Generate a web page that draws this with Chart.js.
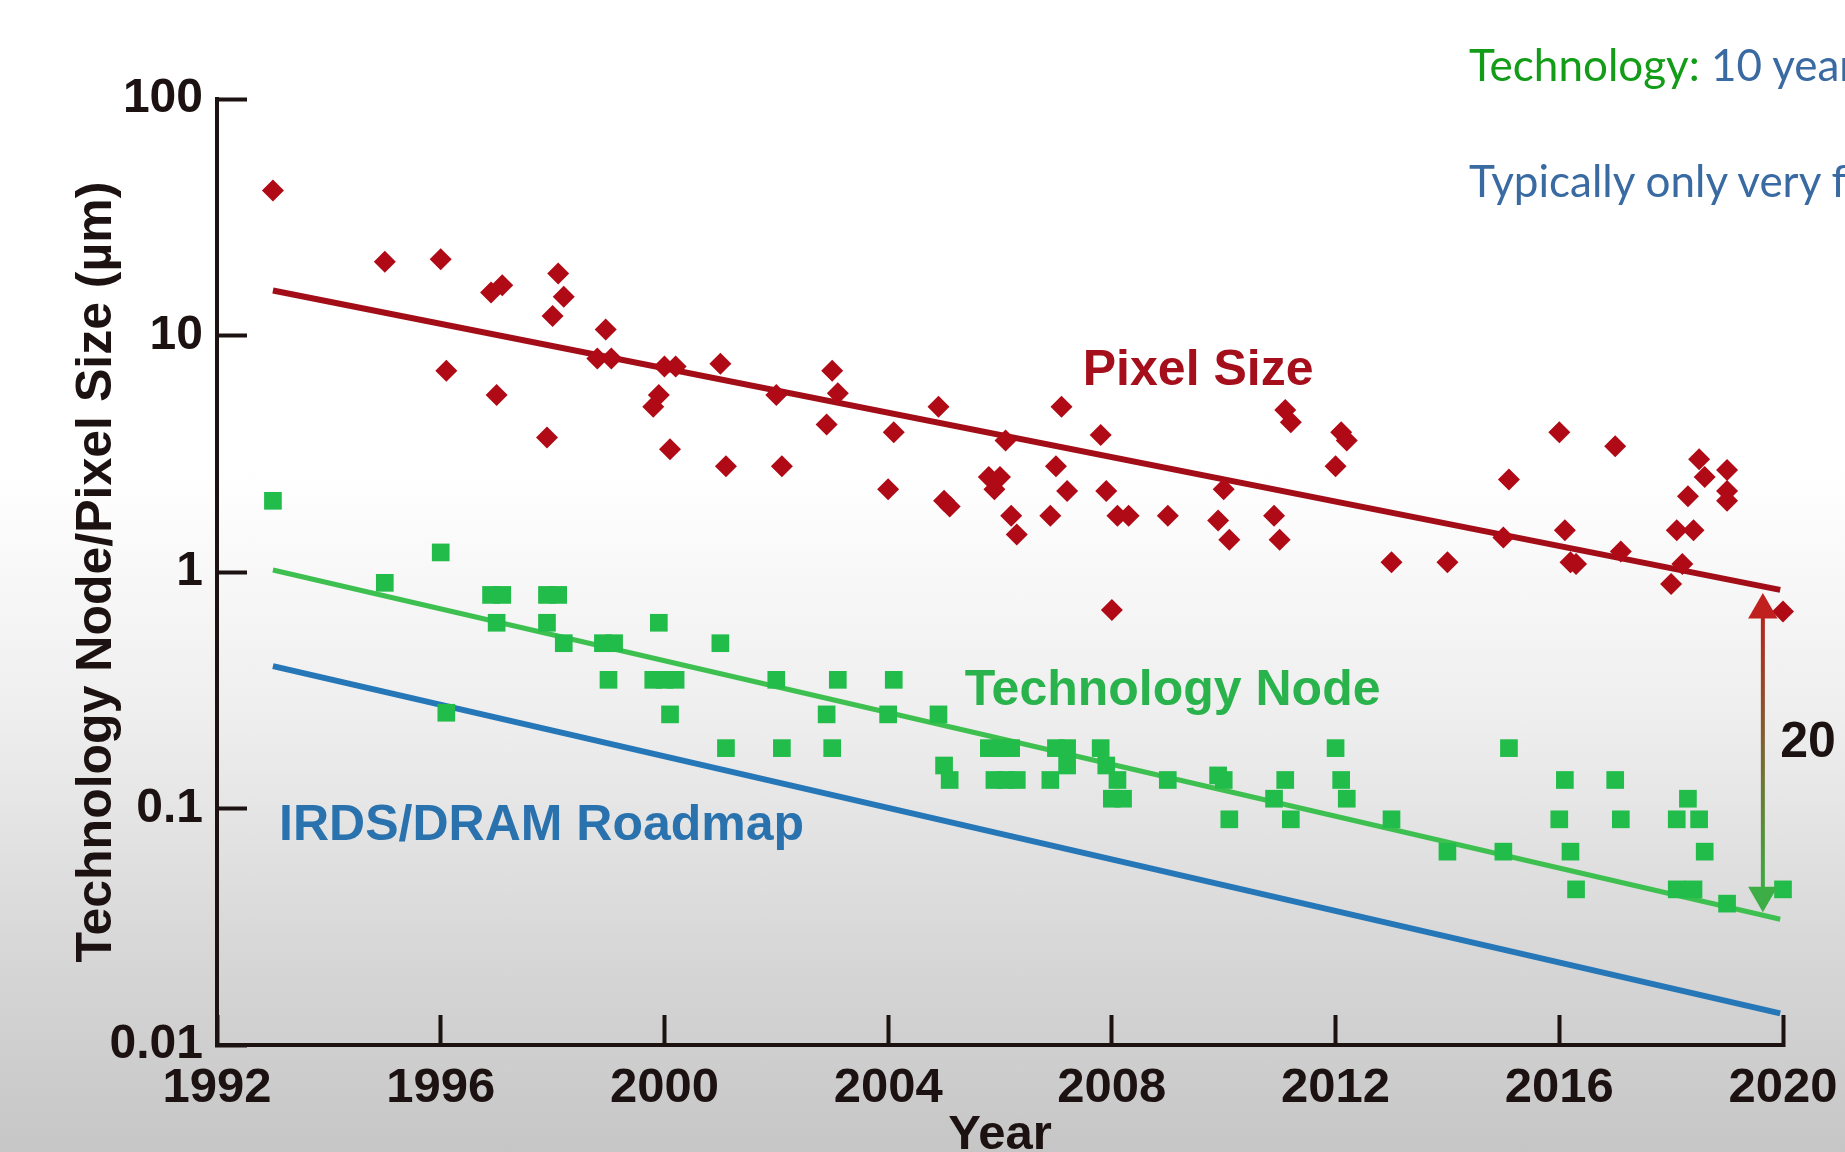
<!DOCTYPE html>
<html lang="en">
<head>
    <meta charset="UTF-8">
    <title>Technology Node / Pixel Size</title>
    <script src="https://cdn.jsdelivr.net/npm/chart.js"></script>
    <style>
        html, body { margin: 0; padding: 0; }
        body {
            width: 1845px; height: 1152px; overflow: hidden; position: relative;
            background: linear-gradient(to bottom, #ffffff 0px, #ffffff 470px, #eeeeee 720px, #d8d8d8 940px, #c6c6c6 1152px);
        }
        #grafico { position: absolute; left: 0; top: 0; }
        .slide-text {
            position: absolute; left: 1469px; white-space: nowrap;
            font-family: Lato, "Open Sans", sans-serif; font-size: 44px; line-height: 1;
        }
        .verde { color: #129c17; }
        .azul { color: #396aa2; }
    </style>
</head>
<body>

    <canvas id="grafico" width="1845" height="1152"></canvas>
    <div class="slide-text" style="top:42px"><span class="verde">Technology:</span> <span class="azul">10 years</span></div>
    <div class="slide-text azul" style="top:158px">Typically only very few</div>

    <script>
        // eixos
        const xTicks = [1992, 1996, 2000, 2004, 2008, 2012, 2016, 2020];
        const yTicks = [0.01, 0.1, 1, 10, 100];
        const yTickLabels = ['0.01', '0.1', '1', '10', '100'];

        // pixel size (diamonds)
        const pixelYears = [1993, 1995, 1996, 1996.1, 1996.9, 1997.1, 1997, 1997.9, 1998.1, 1998.2, 1998, 1998.95, 1998.8, 1999.05,
            1999.8, 1999.9, 2000, 2000.2, 2000.1, 2001, 2001.1, 2002, 2002.1, 2003, 2003.1, 2002.9, 2004.1, 2004,
            2004.9, 2005, 2005.1, 2005.8, 2006, 2005.9, 2006.1, 2006.2, 2006.3, 2007.1, 2007, 2007.2, 2006.9,
            2007.8, 2007.9, 2008.1, 2008.3, 2008, 2009, 2010, 2009.9, 2010.1, 2011.1, 2011.2, 2010.9, 2011,
            2012.1, 2012.2, 2012, 2013, 2014, 2015.1, 2015, 2016, 2016.1, 2016.2, 2016.3, 2017, 2017.1,
            2018, 2018.1, 2018.2, 2018.3, 2018.4, 2018.5, 2018.6, 2019, 2019, 2019, 2020];
        const pixelSizes = [41, 20.5, 21, 7.1, 15.2, 16.3, 5.6, 3.7, 18.3, 14.6, 12.1, 10.6, 8.0, 8.0,
            5.0, 5.6, 7.4, 7.4, 3.3, 7.6, 2.8, 5.6, 2.8, 7.1, 5.7, 4.2, 3.9, 2.24,
            5.0, 2.0, 1.89, 2.52, 2.52, 2.24, 3.6, 1.73, 1.44, 5.0, 2.8, 2.2, 1.73,
            3.8, 2.2, 1.73, 1.73, 0.69, 1.73, 2.24, 1.65, 1.37, 4.84, 4.3, 1.73, 1.37,
            3.9, 3.6, 2.8, 1.1, 1.1, 2.46, 1.4, 3.9, 1.5, 1.1, 1.08, 3.4, 1.22,
            0.89, 1.5, 1.08, 2.09, 1.5, 3.0, 2.52, 2.7, 2.2, 2.0, 0.68];

        // technology node (squares)
        const nodeYears = [1993, 1995, 1996, 1996.1, 1996.9, 1997.1, 1997, 1997.9, 1998.1, 1997.9, 1998.2, 1998.9, 1999.1, 1999,
            1999.9, 1999.8, 2000, 2000.2, 2000.1, 2001, 2001.1, 2002, 2002.1, 2003.1, 2002.9, 2003, 2004.1, 2004,
            2004.9, 2005, 2005.1, 2005.8, 2006, 2006.2, 2005.9, 2006.1, 2006.3, 2006.9, 2007, 2007.2, 2007.2,
            2007.8, 2007.9, 2008, 2008.2, 2008.1, 2009, 2009.9, 2010, 2010.1, 2010.9, 2011.1, 2011.2,
            2012, 2012.1, 2012.2, 2013, 2014, 2015, 2015.1, 2016.1, 2016, 2016.2, 2016.3, 2017, 2017.1,
            2018.1, 2018.3, 2018.5, 2018.6, 2018.1, 2018.4, 2019, 2020];
        const nodeSizes = [2.0, 0.9, 1.21, 0.254, 0.8, 0.8, 0.61, 0.8, 0.8, 0.61, 0.5, 0.5, 0.5, 0.35,
            0.61, 0.35, 0.35, 0.35, 0.25, 0.5, 0.18, 0.35, 0.18, 0.35, 0.25, 0.18, 0.35, 0.25,
            0.25, 0.152, 0.132, 0.18, 0.18, 0.18, 0.132, 0.132, 0.132, 0.132, 0.18, 0.18, 0.152,
            0.18, 0.152, 0.11, 0.11, 0.132, 0.132, 0.138, 0.132, 0.09, 0.11, 0.132, 0.09,
            0.18, 0.132, 0.11, 0.09, 0.0657, 0.0657, 0.18, 0.132, 0.09, 0.0657, 0.0455, 0.132, 0.09,
            0.09, 0.11, 0.09, 0.0657, 0.0455, 0.0455, 0.0396, 0.0455];

        // retas de tendencia
        const fitYears = [1993, 2019.95];
        const pixelFit = [15.5, 0.84];
        const nodeFit = [1.02, 0.034];
        const roadmapFit = [0.40, 0.0136];

        // seta do gap (20x)
        const gapYears = [2019.64, 2019.64];
        const gapValues = [0.69, 0.043];

        const FONTE = '"Liberation Sans", Arial, Helvetica, sans-serif';
        const EIXO = '#1c1212';

        function pontos(xs, ys) {
            return xs.map((x, i) => ({ x: x, y: ys[i] }));
        }

        // textos dentro do grafico
        const rotulos = {
            id: 'rotulos',
            afterDatasetsDraw(chart) {
                const { ctx, scales: { x, y } } = chart;
                const itens = [
                    { texto: 'Pixel Size', ano: 2007.48, valor: 6.18, cor: '#a50f1c' },
                    { texto: 'Technology Node', ano: 2005.37, valor: 0.274, cor: '#2ab34c' },
                    { texto: 'IRDS/DRAM Roadmap', ano: 1993.11, valor: 0.0736, cor: '#2a72ae' },
                    { texto: '20', ano: 2019.95, valor: 0.165, cor: EIXO }
                ];
                ctx.save();
                ctx.font = 'bold 50px ' + FONTE;
                ctx.textAlign = 'left';
                ctx.textBaseline = 'alphabetic';
                itens.forEach(function (it) {
                    ctx.fillStyle = it.cor;
                    ctx.fillText(it.texto, x.getPixelForValue(it.ano), y.getPixelForValue(it.valor));
                });
                ctx.restore();
            }
        };

        new Chart(document.getElementById('grafico'), {
            type: 'scatter',
            data: {
                datasets: [
                    {
                        label: 'Gap',
                        type: 'line',
                        data: pontos(gapYears, gapValues),
                        borderWidth: 4,
                        borderColor: function (c) {
                            const chart = c.chart;
                            if (!chart.chartArea || !chart.scales.y) return '#8a6a3a';
                            const topo = chart.scales.y.getPixelForValue(gapValues[0]);
                            const base = chart.scales.y.getPixelForValue(gapValues[1]);
                            const g = chart.ctx.createLinearGradient(0, topo, 0, base);
                            g.addColorStop(0, '#b8201c');
                            g.addColorStop(1, '#3cae45');
                            return g;
                        },
                        pointStyle: 'triangle',
                        pointRadius: 17,
                        pointRotation: [0, 180],
                        pointBackgroundColor: ['#c0201e', '#3cae45'],
                        pointBorderWidth: 0,
                        clip: false,
                        order: 0
                    },
                    {
                        label: 'Pixel Size',
                        data: pontos(pixelYears, pixelSizes),
                        pointStyle: 'rectRot',
                        pointRadius: 11,
                        pointBackgroundColor: '#b00a16',
                        pointBorderWidth: 0,
                        clip: false,
                        order: 1
                    },
                    {
                        label: 'Technology Node',
                        data: pontos(nodeYears, nodeSizes),
                        pointStyle: 'rect',
                        pointRadius: 12.5,
                        pointBackgroundColor: '#22bc4a',
                        pointBorderWidth: 0,
                        clip: false,
                        order: 1
                    },
                    {
                        label: 'Pixel fit',
                        type: 'line',
                        data: pontos(fitYears, pixelFit),
                        borderColor: '#a30d18',
                        borderWidth: 6,
                        pointRadius: 0,
                        clip: false,
                        order: 2
                    },
                    {
                        label: 'Node fit',
                        type: 'line',
                        data: pontos(fitYears, nodeFit),
                        borderColor: '#3ec050',
                        borderWidth: 5,
                        pointRadius: 0,
                        clip: false,
                        order: 2
                    },
                    {
                        label: 'IRDS/DRAM Roadmap',
                        type: 'line',
                        data: pontos(fitYears, roadmapFit),
                        borderColor: '#2677b8',
                        borderWidth: 6,
                        pointRadius: 0,
                        clip: false,
                        order: 2
                    }
                ]
            },
            options: {
                responsive: false,
                animation: false,
                layout: { padding: { left: 0, top: 99, right: 62, bottom: 0 } },
                plugins: {
                    legend: { display: false },
                    tooltip: { enabled: false }
                },
                scales: {
                    x: {
                        type: 'linear',
                        min: 1992,
                        max: 2020,
                        afterBuildTicks: function (s) { s.ticks = xTicks.map(v => ({ value: v })); },
                        afterFit: function (s) {
                            s.height = 107;
                            s.paddingLeft = 0;
                            s.paddingRight = 0;
                        },
                        ticks: {
                            autoSkip: false,
                            maxRotation: 0,
                            padding: 44,
                            color: EIXO,
                            font: { family: FONTE, size: 49, weight: 'bold' },
                            callback: function (v) { return String(v); }
                        },
                        grid: { drawOnChartArea: false, tickLength: -30, tickWidth: 4, tickColor: EIXO },
                        border: { display: true, color: EIXO, width: 4 },
                        title: {
                            display: true,
                            text: 'Year',
                            color: EIXO,
                            font: { family: FONTE, size: 49, weight: 'bold', lineHeight: 0.68 },
                            padding: 0
                        }
                    },
                    y: {
                        type: 'logarithmic',
                        min: 0.01,
                        max: 100,
                        afterBuildTicks: function (s) { s.ticks = yTicks.map(v => ({ value: v })); },
                        afterFit: function (s) {
                            s.width = 217;
                            s.paddingTop = 0;
                            s.paddingBottom = 0;
                        },
                        ticks: {
                            autoSkip: false,
                            padding: 44,
                            color: EIXO,
                            font: { family: FONTE, size: 48, weight: 'bold' },
                            callback: function (v, i) { return yTickLabels[i]; }
                        },
                        grid: { drawOnChartArea: false, tickLength: -30, tickWidth: 4, tickColor: EIXO },
                        border: { display: true, color: EIXO, width: 4 },
                        title: {
                            display: true,
                            text: 'Technology Node/Pixel Size (µm)',
                            color: EIXO,
                            font: { family: FONTE, size: 50, weight: 'bold' },
                            padding: { top: 67, bottom: 0 }
                        }
                    }
                }
            },
            plugins: [rotulos]
        });
    </script>

</body>
</html>
